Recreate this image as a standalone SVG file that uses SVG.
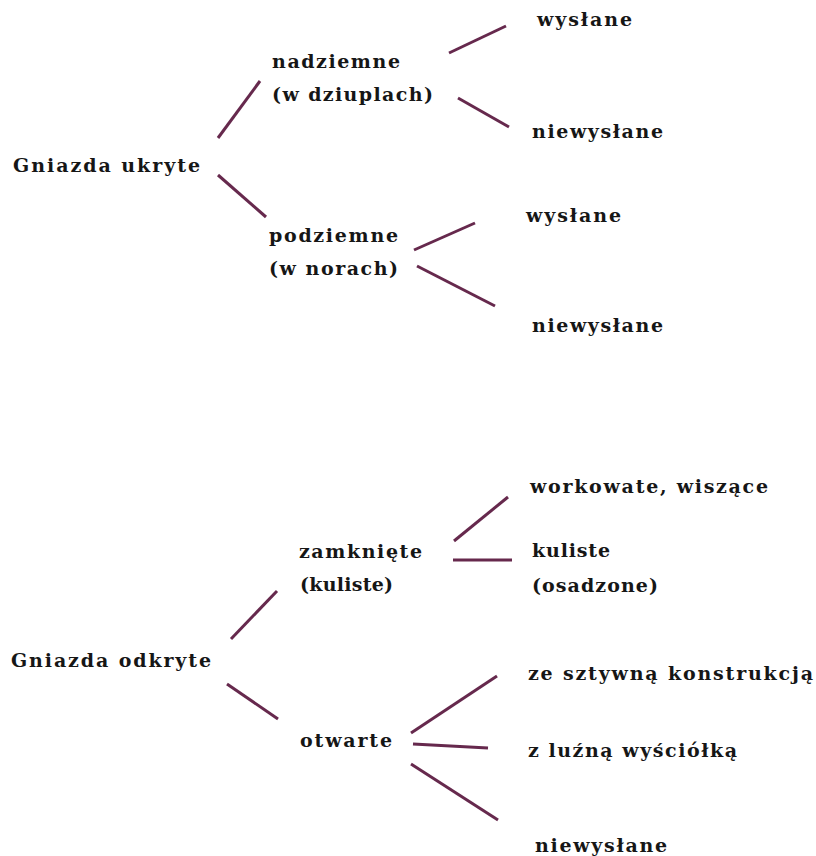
<svg xmlns="http://www.w3.org/2000/svg" width="816" height="856" viewBox="0 0 816 856">
<style>
text{font-family:"DejaVu Serif","Liberation Serif",serif;font-weight:bold;font-size:19px;fill:#161616}
.c line{stroke:#66294d;stroke-width:3;stroke-linecap:butt}
</style>
<rect width="816" height="856" fill="#ffffff"/>
<g id="connectors" class="c">
<line x1="218" y1="138" x2="260" y2="81"/>
<line x1="218" y1="175" x2="266" y2="217"/>
<line x1="449" y1="53" x2="506" y2="26"/>
<line x1="458" y1="98" x2="509" y2="127"/>
<line x1="414" y1="250" x2="475" y2="223"/>
<line x1="417" y1="266" x2="495" y2="306"/>
<line x1="231" y1="639" x2="277" y2="591"/>
<line x1="227" y1="684" x2="278" y2="719"/>
<line x1="454" y1="541" x2="508" y2="497"/>
<line x1="453" y1="560" x2="512" y2="560"/>
<line x1="411" y1="733" x2="497" y2="676"/>
<line x1="413" y1="744" x2="488" y2="748"/>
<line x1="411" y1="764" x2="498" y2="820"/>
</g>
<g id="n-ukryte"><text x="13" y="172" textLength="187" lengthAdjust="spacing">Gniazda ukryte</text></g>
<g id="n-nadziemne"><text x="272" y="68" textLength="128" lengthAdjust="spacing">nadziemne</text><text x="272" y="101" textLength="161" lengthAdjust="spacing">(w dziuplach)</text></g>
<g id="n-wyslane1"><text x="537" y="26" textLength="95" lengthAdjust="spacing">wysłane</text></g>
<g id="n-niewyslane1"><text x="532" y="138" textLength="131" lengthAdjust="spacing">niewysłane</text></g>
<g id="n-podziemne"><text x="269" y="242" textLength="129" lengthAdjust="spacing">podziemne</text><text x="269" y="275" textLength="129" lengthAdjust="spacing">(w norach)</text></g>
<g id="n-wyslane2"><text x="526" y="222" textLength="95" lengthAdjust="spacing">wysłane</text></g>
<g id="n-niewyslane2"><text x="532" y="332" textLength="131" lengthAdjust="spacing">niewysłane</text></g>
<g id="n-odkryte"><text x="11" y="667" textLength="200" lengthAdjust="spacing">Gniazda odkryte</text></g>
<g id="n-zamkniete"><text x="299" y="558" textLength="123" lengthAdjust="spacing">zamknięte</text><text x="300" y="591" textLength="93" lengthAdjust="spacing">(kuliste)</text></g>
<g id="n-otwarte"><text x="300" y="747" textLength="92" lengthAdjust="spacing">otwarte</text></g>
<g id="n-workowate"><text x="530" y="493" textLength="238" lengthAdjust="spacing">workowate, wiszące</text></g>
<g id="n-kuliste"><text x="532" y="557" textLength="78" lengthAdjust="spacing">kuliste</text><text x="532" y="592" textLength="126" lengthAdjust="spacing">(osadzone)</text></g>
<g id="n-sztywna"><text x="528" y="680" textLength="285" lengthAdjust="spacing">ze sztywną konstrukcją</text></g>
<g id="n-luzna"><text x="528" y="757" textLength="209" lengthAdjust="spacing">z luźną wyściółką</text></g>
<g id="n-niewyslane3"><text x="535" y="852" textLength="132" lengthAdjust="spacing">niewysłane</text></g>
</svg>
